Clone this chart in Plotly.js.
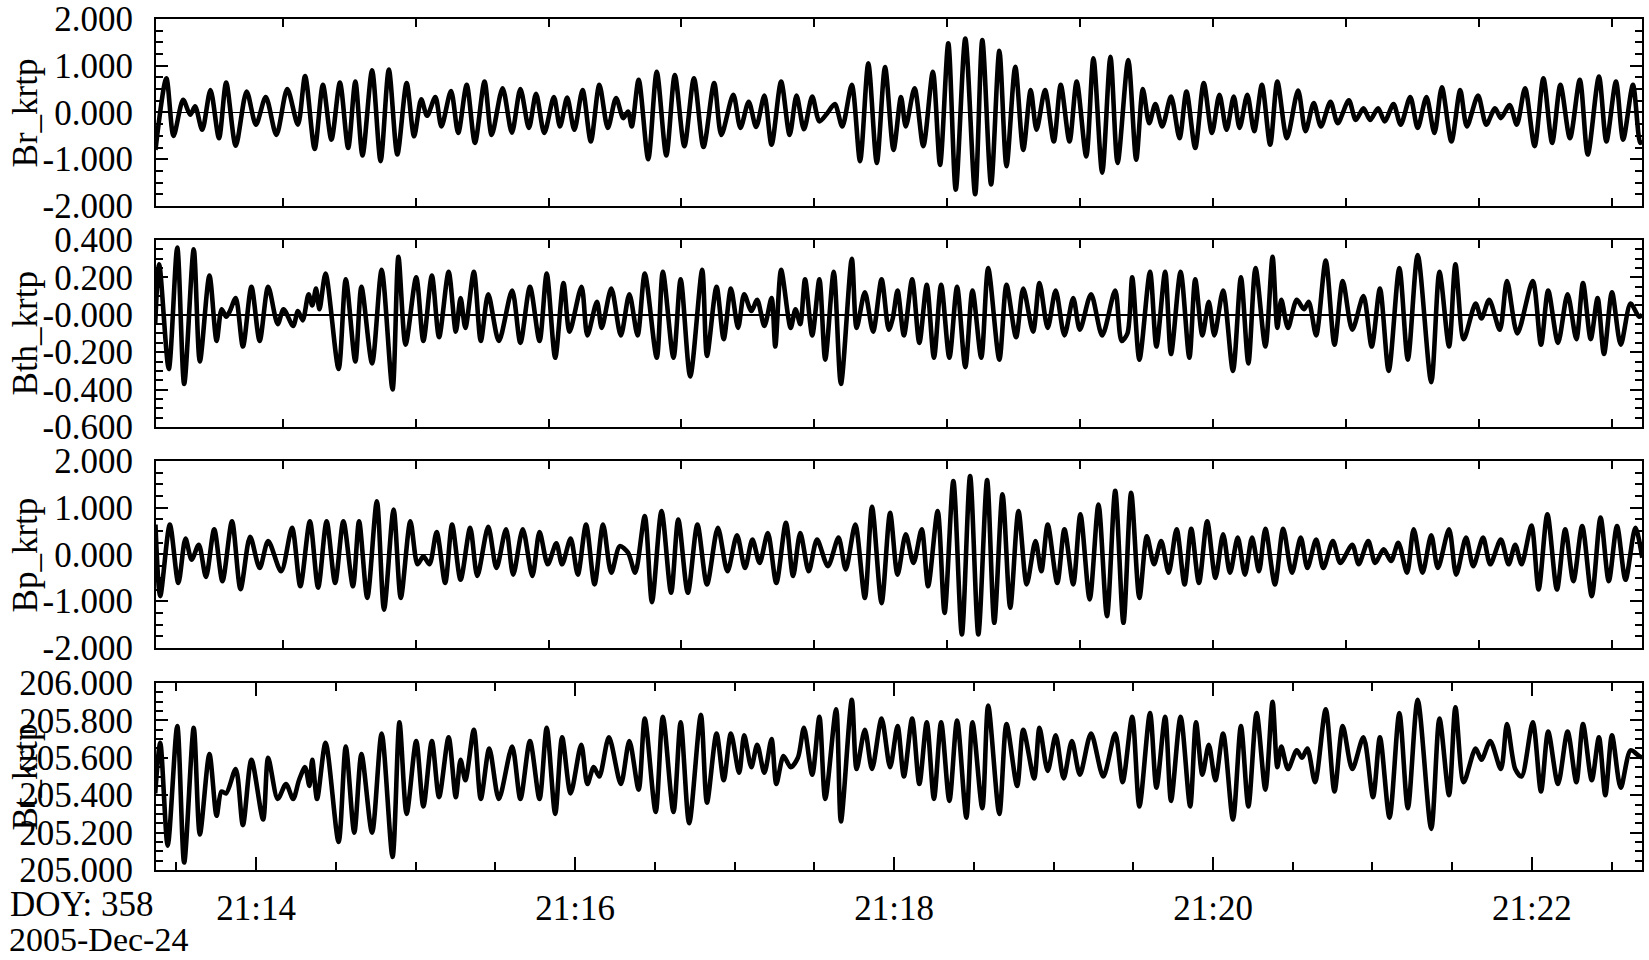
<!DOCTYPE html>
<html>
<head>
<meta charset="utf-8">
<script src="https://cdn.plot.ly/plotly-3.0.1.min.js"></script>
<style>
  html, body { margin: 0; padding: 0; background: #ffffff; }
  #chart { width: 1649px; height: 960px; }
</style>
</head>
<body>
<div id="chart"></div>
<script>
// Time values: seconds after 21:13:00 UT, 2005-Dec-24 (DOY 358)
const br_t = [22.1,26.2,28.9,32.5,35.2,37.0,39.7,42.8,46.0,48.7,52.3,56.4,59.9,63.6,67.6,71.7,75.7,78.4,82.0,85.1,88.3,91.5,94.6,97.3,100.0,103.6,106.8,109.9,113.1,116.6,119.4,122.1,124.3,127.4,129.7,133.3,136.0,139.2,142.3,145.9,148.6,152.7,156.2,159.4,162.6,165.3,168.4,172.0,174.3,177.0,179.7,182.8,185.9,189.1,192.3,195.4,198.1,199.9,201.3,203.9,207.5,210.7,214.3,217.5,221.1,224.7,228.3,232.3,235.0,239.5,242.2,245.3,248.1,251.2,253.9,257.5,260.7,263.3,266.1,269.2,271.9,274.8,277.7,280.5,284.1,287.2,290.3,293.5,296.6,299.8,
302.6,304.4,307.7,311.0,314.6,317.3,320.4,323.2,326.8,330.5,333.2,336.5,339.6,342.3,345.6,348.6,351.4,353.6,356.8,360.1,362.7,366.0,368.7,372.3,375.0,378.3,381.4,384.1,388.1,391.1,393.6,396.0,398.3,400.9,404.2,407.4,410.0,413.3,416.5,419.6,422.4,425.1,427.8,430.0,432.9,435.5,438.4,441.5,444.2,447.8,452.0,454.8,457.9,460.6,464.2,466.9,471.1,473.7,476.6,479.1,482.1,484.6,487.9,490.6,494.2,497.0,500.3,503.3,506.1,509.7,513.0,515.5,519.7,522.8,526.1,528.3,531.6,534.3,537.4,541.0,544.3,547.6,550.7,554.3,558.0,561.0,565.2,568.0,571.6,574.3,578.0,580.7,581.5];
const br_v = [-0.80,0.73,-0.50,0.27,-0.05,0.13,-0.37,0.48,-0.55,0.64,-0.71,0.45,-0.26,0.33,-0.48,0.50,-0.26,0.78,-0.78,0.59,-0.58,0.64,-0.76,0.66,-0.92,0.90,-1.04,0.92,-0.90,0.63,-0.51,0.28,-0.07,0.33,-0.30,0.46,-0.44,0.59,-0.65,0.66,-0.48,0.52,-0.43,0.50,-0.33,0.40,-0.44,0.33,-0.30,0.32,-0.37,0.48,-0.62,0.59,-0.33,0.31,-0.12,0.02,-0.30,0.70,-1.00,0.87,-0.92,0.80,-0.72,0.73,-0.74,0.63,-0.48,0.38,-0.33,0.23,-0.31,0.36,-0.69,0.66,-0.48,0.36,-0.36,0.34,-0.19,-0.02,0.18,-0.30,0.59,-1.04,1.05,-1.08,0.97,-0.80,
0.33,-0.30,0.52,-0.72,0.87,-1.12,1.48,-1.65,1.58,-1.75,1.55,-1.54,1.32,-1.15,0.98,-0.80,0.48,-0.37,0.48,-0.62,0.59,-0.62,0.66,-0.94,1.16,-1.29,1.19,-1.08,1.12,-1.01,0.50,-0.23,0.18,-0.30,0.34,-0.55,0.45,-0.76,0.63,-0.44,0.38,-0.37,0.34,-0.33,0.38,-0.40,0.59,-0.69,0.66,-0.55,0.47,-0.40,0.20,-0.30,0.23,-0.23,0.26,-0.16,0.09,-0.16,0.09,-0.19,0.18,-0.26,0.33,-0.33,0.33,-0.44,0.54,-0.62,0.48,-0.30,0.36,-0.26,0.09,-0.12,0.16,-0.26,0.52,-0.72,0.73,-0.65,0.59,-0.55,0.70,-0.90,0.77,-0.62,0.66,-0.58,0.59,-0.65,-0.60];

const bth_t = [22.0,23.5,27.1,30.3,32.9,36.5,38.8,42.4,45.1,47.0,48.7,50.1,52.3,55.0,58.2,61.3,64.5,68.1,70.3,73.9,75.7,77.5,79.7,81.1,82.5,83.8,86.1,91.0,93.7,97.3,99.6,103.6,107.2,111.3,113.5,116.2,120.2,122.9,126.1,128.8,132.4,135.1,136.9,138.7,141.9,144.5,147.3,151.3,156.3,159.4,163.0,166.6,169.3,172.5,175.6,177.9,182.4,184.6,188.2,190.0,193.6,197.2,200.4,203.5,206.2,210.7,213.0,217.0,219.7,223.3,227.8,229.6,233.2,235.9,238.6,241.3,243.6,246.3,248.5,251.2,253.9,255.3,257.5,261.1,262.9,264.7,266.5,269.2,271.9,274.1,277.3,280.0,284.1,285.9,289.0,292.1,295.3,298.0,
299.5,301.3,303.7,306.8,309.5,312.3,315.0,317.7,320.8,323.7,326.8,329.5,332.8,335.4,339.6,342.3,345.9,348.6,352.3,354.7,357.8,360.8,364.1,367.4,369.9,374.1,378.3,383.2,385.6,387.8,389.6,392.3,396.3,398.7,402.0,404.2,407.8,411.1,413.3,416.0,418.4,420.5,423.8,427.5,430.5,433.3,436.0,439.7,442.4,444.2,445.7,448.2,451.5,454.2,456.0,458.8,462.4,465.7,468.8,472.4,476.6,479.7,482.8,486.1,490.1,493.3,497.0,502.1,505.2,508.8,511.2,514.3,518.8,521.0,523.9,527.9,530.6,534.5,540.3,543.4,546.1,549.8,553.4,556.7,559.2,562.1,564.7,567.1,570.1,573.4,577.1,580.3,581.5];
const bth_v = [-0.05,0.27,-0.29,0.36,-0.37,0.35,-0.25,0.21,-0.14,0.03,-0.01,0.02,0.09,-0.17,0.15,-0.14,0.15,-0.05,0.03,-0.06,0.02,-0.03,0.11,0.05,0.14,0.03,0.22,-0.29,0.19,-0.25,0.15,-0.26,0.24,-0.40,0.31,-0.16,0.20,-0.14,0.21,-0.12,0.23,-0.09,0.09,-0.07,0.23,-0.14,0.11,-0.14,0.13,-0.15,0.15,-0.14,0.22,-0.23,0.17,-0.09,0.15,-0.11,0.07,-0.07,0.14,-0.11,0.11,-0.11,0.22,-0.23,0.23,-0.23,0.19,-0.33,0.24,-0.22,0.15,-0.13,0.14,-0.07,0.11,0.02,0.08,-0.06,0.09,-0.17,0.24,-0.07,0.03,-0.05,0.19,-0.11,0.19,-0.24,0.23,-0.37,0.30,-0.07,0.12,-0.09,0.19,-0.08,
-0.02,0.13,-0.11,0.19,-0.15,0.16,-0.23,0.16,-0.23,0.15,-0.28,0.13,-0.23,0.25,-0.24,0.16,-0.12,0.14,-0.09,0.17,-0.07,0.13,-0.11,0.09,-0.08,0.11,-0.11,0.13,-0.14,-0.10,0.20,-0.24,0.23,-0.17,0.23,-0.21,0.23,-0.23,0.19,-0.11,0.07,-0.11,0.13,-0.30,0.20,-0.26,0.25,-0.17,0.31,-0.07,0.08,-0.07,0.08,0.03,0.07,-0.11,0.29,-0.16,0.18,-0.08,0.10,-0.17,0.14,-0.30,0.25,-0.24,0.32,-0.36,0.23,-0.17,0.27,-0.13,0.06,-0.02,0.08,-0.08,0.18,-0.10,0.18,-0.16,0.13,-0.15,0.11,-0.13,0.17,-0.13,0.09,-0.21,0.12,-0.16,0.06,-0.01,0.00];

const bp_t = [22.1,23.9,27.5,30.7,33.4,35.7,38.4,41.1,44.2,47.3,50.9,54.1,57.7,61.3,64.5,69.4,73.5,76.6,80.2,83.3,86.5,89.7,92.8,96.4,98.7,101.8,105.4,108.1,111.7,114.4,118.0,120.7,122.9,125.2,127.9,131.1,133.7,136.9,140.5,143.2,147.3,150.4,154.0,156.7,160.3,163.9,166.6,169.7,172.9,175.1,178.3,181.0,184.1,187.3,190.5,193.6,196.8,199.9,202.6,206.2,208.9,212.5,216.1,218.8,222.4,226.0,229.6,233.7,237.3,240.9,243.9,246.7,249.4,252.5,255.7,259.3,262.0,264.7,267.9,271.0,275.1,279.1,281.8,285.4,289.0,291.7,295.3,298.5,
301.3,304.4,307.3,310.4,312.8,316.4,319.0,322.3,325.5,328.6,331.7,335.0,337.7,340.8,343.7,346.8,349.9,353.2,355.4,357.8,361.4,364.1,367.4,370.1,373.6,376.9,380.1,383.2,386.3,389.2,392.3,395.1,397.8,400.5,403.3,406.3,409.3,411.8,414.7,417.8,420.9,423.8,426.4,429.3,432.0,434.7,437.3,439.7,443.3,446.4,449.7,453.0,455.5,458.8,461.5,465.1,467.9,472.4,474.8,478.4,481.0,484.2,487.0,489.7,493.0,495.5,498.8,502.1,504.6,508.8,511.5,515.2,517.9,521.6,524.3,528.3,531.2,533.7,536.1,539.8,542.5,545.8,549.4,552.5,555.6,558.9,562.5,565.8,568.9,572.0,575.2,578.9,581.5];
const bp_v = [0.64,-0.89,0.64,-0.61,0.34,-0.11,0.21,-0.48,0.54,-0.57,0.71,-0.74,0.38,-0.29,0.29,-0.36,0.57,-0.68,0.71,-0.71,0.71,-0.61,0.71,-0.68,0.71,-0.93,1.14,-1.18,0.96,-0.93,0.71,-0.21,-0.04,-0.21,0.48,-0.61,0.64,-0.54,0.57,-0.46,0.59,-0.29,0.54,-0.43,0.54,-0.46,0.48,-0.21,0.24,-0.21,0.34,-0.43,0.64,-0.64,0.64,-0.39,0.18,0.04,-0.39,0.82,-1.02,0.93,-0.82,0.75,-0.82,0.64,-0.64,0.57,-0.36,0.41,-0.29,0.32,-0.18,0.46,-0.61,0.68,-0.46,0.46,-0.36,0.32,-0.25,0.36,-0.32,0.64,-0.93,1.02,-1.04,0.89,
-0.43,0.43,-0.18,0.54,-0.68,0.93,-1.25,1.57,-1.71,1.68,-1.71,1.59,-1.46,1.29,-1.14,0.93,-0.64,0.29,-0.36,0.64,-0.61,0.54,-0.64,0.86,-0.96,1.07,-1.32,1.36,-1.46,1.32,-0.93,0.39,-0.21,0.29,-0.39,0.54,-0.64,0.55,-0.61,0.71,-0.50,0.43,-0.39,0.36,-0.43,0.36,-0.36,0.55,-0.64,0.55,-0.39,0.36,-0.29,0.32,-0.29,0.29,-0.18,0.21,-0.21,0.29,-0.18,0.11,-0.14,0.25,-0.39,0.54,-0.39,0.41,-0.29,0.54,-0.43,0.36,-0.25,0.36,-0.21,0.32,-0.21,0.21,-0.21,0.62,-0.75,0.86,-0.75,0.54,-0.57,0.61,-0.89,0.79,-0.57,0.61,-0.54,0.57,-0.07];

const bt_t = [22.0,23.9,26.7,30.3,32.9,36.5,38.8,42.4,45.1,46.9,48.7,52.3,55.0,58.2,62.6,64.5,68.1,71.2,73.9,76.1,78.4,80.0,81.1,82.9,86.1,91.0,93.7,96.9,99.6,103.6,107.2,111.3,113.9,116.6,120.2,122.9,126.1,128.8,132.4,135.1,136.9,138.7,141.9,144.5,147.7,151.3,156.3,159.4,163.0,166.6,169.3,172.5,175.1,178.3,182.3,184.6,187.0,189.1,192.7,197.2,200.4,203.9,206.2,210.3,213.0,217.0,219.7,222.9,227.3,229.6,233.2,235.9,238.6,241.7,243.6,246.3,248.5,251.2,253.9,255.7,258.4,261.1,263.8,266.1,269.2,271.9,274.1,278.2,280.0,284.1,285.9,289.0,291.7,295.3,298.5,
301.3,303.7,306.8,309.5,312.3,315.0,317.7,320.8,323.7,327.2,329.5,333.2,335.4,339.6,342.3,346.3,348.6,352.7,354.7,357.8,360.8,363.8,366.9,369.9,374.1,378.7,383.2,386.0,389.6,392.3,396.3,398.7,402.0,404.2,407.8,411.4,413.6,416.0,418.4,420.9,423.8,427.5,430.5,433.3,436.4,439.7,442.4,444.2,445.7,448.2,451.5,453.5,455.5,458.4,462.4,465.7,468.8,472.4,476.6,480.2,482.8,486.4,490.1,493.3,497.0,502.1,505.2,508.8,511.2,514.3,518.8,521.0,524.3,528.3,530.6,533.7,536.1,540.3,543.4,546.1,549.8,553.4,556.7,559.2,562.5,565.2,567.6,570.1,573.4,577.1,580.3,581.5];
const bt_v = [205.41,205.68,205.13,205.77,205.04,205.76,205.19,205.62,205.29,205.42,205.41,205.54,205.24,205.59,205.27,205.60,205.38,205.46,205.38,205.48,205.55,205.45,205.59,205.38,205.68,205.15,205.66,205.20,205.62,205.20,205.73,205.07,205.79,205.30,205.69,205.34,205.69,205.39,205.71,205.39,205.59,205.48,205.75,205.38,205.65,205.38,205.66,205.38,205.69,205.38,205.76,205.30,205.71,205.41,205.67,205.46,205.55,205.50,205.71,205.46,205.69,205.43,205.81,205.31,205.82,205.31,205.79,205.25,205.83,205.36,205.73,205.48,205.73,205.52,205.72,205.55,205.67,205.52,205.70,205.46,205.61,205.55,205.60,205.76,205.51,205.82,205.38,205.86,205.26,205.91,205.54,205.75,205.54,205.81,205.55,
205.77,205.50,205.81,205.46,205.79,205.38,205.79,205.37,205.80,205.28,205.79,205.33,205.88,205.30,205.78,205.45,205.75,205.49,205.76,205.53,205.72,205.49,205.69,205.51,205.73,205.50,205.73,205.47,205.82,205.34,205.84,205.44,205.82,205.37,205.82,205.34,205.79,205.51,205.67,205.48,205.73,205.27,205.77,205.34,205.84,205.43,205.90,205.55,205.66,205.54,205.64,205.60,205.65,205.47,205.86,205.42,205.77,205.54,205.71,205.39,205.71,205.28,205.84,205.33,205.91,205.22,205.81,205.40,205.87,205.47,205.65,205.59,205.69,205.54,205.78,205.54,205.50,205.79,205.42,205.74,205.46,205.74,205.47,205.78,205.48,205.71,205.40,205.72,205.44,205.64,205.61,205.60];

// Axis labels and tick values
const panel_names = ["Br_krtp", "Bth_krtp", "Bp_krtp", "Bt_krtp"];
const time_label_secs = [60, 180, 300, 420, 540];
const time_labels = ["21:14", "21:16", "21:18", "21:20", "21:22"];
const br_ticks = [-2, -1, 0, 1, 2];
const br_ticktext = ["-2.000", "-1.000", "0.000", "1.000", "2.000"];
const bth_ticks = [-0.6, -0.4, -0.2, 0, 0.2, 0.4];
const bth_ticktext = ["-0.600", "-0.400", "-0.200", "-0.000", "0.200", "0.400"];
const bp_ticks = [-2, -1, 0, 1, 2];
const bp_ticktext = ["-2.000", "-1.000", "0.000", "1.000", "2.000"];
const bt_ticks = [205.0, 205.2, 205.4, 205.6, 205.8, 206.0];
const bt_ticktext = ["205.000", "205.200", "205.400", "205.600", "205.800", "206.000"];
const doy_text = "DOY: 358";
const date_text = "2005-Dec-24";

const FONT = "Liberation Serif, Times New Roman, serif";
const FS = 35;
const XR = [22.3, 581.4];

function trace(t, v, i) {
  const s = i === 1 ? "" : String(i);
  return {
    x: t, y: v, xaxis: "x" + s, yaxis: "y" + s, type: "scatter", mode: "lines",
    line: { color: "#000000", width: 4.6, shape: "spline", smoothing: 0.8 },
    hoverinfo: "skip", showlegend: false
  };
}

function xAxisTop() {
  return {
    range: XR, showticklabels: false, tickmode: "linear", tick0: 20, dtick: 50,
    ticks: "inside", ticklen: 8, tickwidth: 2, tickcolor: "#000",
    showline: true, linecolor: "#000", linewidth: 2, mirror: "ticks",
    showgrid: false, zeroline: false, fixedrange: true
  };
}

function yAxis(domain, range, tv, tt, minorStep, zero) {
  return {
    domain: domain, range: range, tickmode: "array", tickvals: tv, ticktext: tt,
    ticks: "inside", ticklen: 12, tickwidth: 2, tickcolor: "#000",
    minor: { dtick: minorStep, tick0: 0, ticks: "inside", ticklen: 7, tickwidth: 2, tickcolor: "#000" },
    showline: true, linecolor: "#000", linewidth: 2, mirror: "ticks",
    showgrid: false, zeroline: zero, zerolinecolor: "#000", zerolinewidth: 1.6,
    tickfont: { family: FONT, size: FS, color: "#000" }, ticklabelstandoff: 14,
    fixedrange: true
  };
}

const D = [[0.7803, 1.0], [0.5206, 0.7403], [0.2609, 0.4806], [0.0, 0.2197]];

const data = [
  trace(br_t, br_v, 1), trace(bth_t, bth_v, 2), trace(bp_t, bp_v, 3), trace(bt_t, bt_v, 4)
];

const layout = {
  width: 1649, height: 960,
  margin: { l: 156, r: 7, t: 19, b: 90, pad: 0 },
  paper_bgcolor: "#ffffff", plot_bgcolor: "#ffffff",
  font: { family: FONT, size: FS, color: "#000" },
  showlegend: false,
  xaxis: Object.assign(xAxisTop(), { anchor: "y" }),
  xaxis2: Object.assign(xAxisTop(), { anchor: "y2" }),
  xaxis3: Object.assign(xAxisTop(), { anchor: "y3" }),
  xaxis4: {
    anchor: "y4", range: XR, tickmode: "array", tickvals: time_label_secs, ticktext: time_labels,
    ticks: "inside", ticklen: 13, tickwidth: 2, tickcolor: "#000",
    minor: { dtick: 30, tick0: 0, ticks: "inside", ticklen: 8, tickwidth: 2, tickcolor: "#000" },
    showline: true, linecolor: "#000", linewidth: 2, mirror: "ticks",
    showgrid: false, zeroline: false, fixedrange: true,
    tickfont: { family: FONT, size: FS, color: "#000" }, ticklabelstandoff: 6
  },
  yaxis: yAxis(D[0], [-2, 2], br_ticks, br_ticktext, 0.25, true),
  yaxis2: yAxis(D[1], [-0.6, 0.4], bth_ticks, bth_ticktext, 0.05, true),
  yaxis3: yAxis(D[2], [-2, 2], bp_ticks, bp_ticktext, 0.25, true),
  yaxis4: yAxis(D[3], [205, 206], bt_ticks, bt_ticktext, 0.05, false),
  annotations: []
};

const centers = D.map(d => (d[0] + d[1]) / 2);
panel_names.forEach((name, i) => {
  layout.annotations.push({
    text: name, xref: "paper", yref: "paper", x: -0.0875, y: centers[i],
    xanchor: "center", yanchor: "middle", textangle: -90, showarrow: false,
    font: { family: FONT, size: FS, color: "#000" }
  });
});
layout.annotations.push({
  text: doy_text, xref: "paper", yref: "paper", x: -0.0996, y: -0.040,
  xanchor: "left", yanchor: "middle", showarrow: false,
  font: { family: FONT, size: FS, color: "#000" }
});
layout.annotations.push({
  text: date_text, xref: "paper", yref: "paper", x: -0.0996, y: -0.1040,
  xanchor: "left", yanchor: "bottom", showarrow: false, borderpad: 0,
  font: { family: FONT, size: 34, color: "#000" }
});

Plotly.newPlot("chart", data, layout, { displayModeBar: false, staticPlot: true });
</script>
</body>
</html>
